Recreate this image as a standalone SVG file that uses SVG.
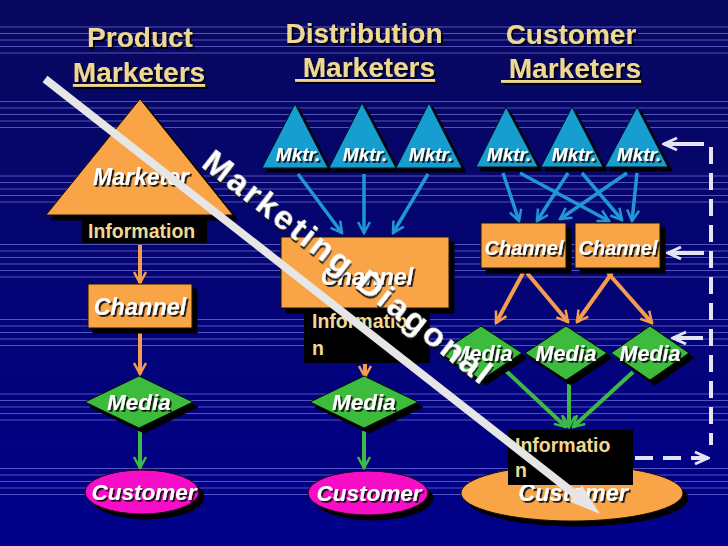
<svg xmlns="http://www.w3.org/2000/svg" width="728" height="546" viewBox="0 0 728 546">
<defs>
<style>
.hdr{font-family:"Liberation Sans",Arial,sans-serif;font-weight:bold;font-size:28px;fill:#eed894;filter:url(#hsh)}
.lbl{font-family:"Liberation Sans",Arial,sans-serif;font-weight:bold;font-style:italic;fill:#ffffff;text-anchor:middle;filter:url(#tsh)}
.info{font-family:"Liberation Sans",Arial,sans-serif;font-weight:bold;font-size:19.5px;fill:#eed894}
.org{fill:#f9a446;stroke:#1a1000;stroke-width:1;filter:url(#sh)}
.blu{fill:#139ed0;stroke:#001020;stroke-width:1;filter:url(#sh4)}
.grn{fill:#3dbb3d;stroke:#001000;stroke-width:1;filter:url(#sh)}
.mag{fill:#f60fc8;stroke:#200018;stroke-width:1;filter:url(#sh)}
.ibox{fill:#000000}
.ao{stroke:#f59d4f;stroke-width:4;fill:none;marker-end:url(#mo)}
.ab{stroke:#2196d3;stroke-width:3.5;fill:none;marker-end:url(#mb)}
.ag{stroke:#3cba44;stroke-width:4;fill:none;marker-end:url(#mg)}
.aw{stroke:#e4e4f4;stroke-width:4;fill:none}
.bgl{stroke:#6d6dd6;stroke-width:1;opacity:0.75}
</style>
<linearGradient id="bg" x1="0" y1="0" x2="0" y2="1">
<stop offset="0" stop-color="#08085e"/>
<stop offset="1" stop-color="#00008a"/>
</linearGradient>
<filter id="sh" x="-20%" y="-20%" width="150%" height="160%"><feDropShadow dx="5" dy="5" stdDeviation="0" flood-color="#000" flood-opacity="1"/></filter>
<filter id="sh4" x="-20%" y="-20%" width="150%" height="160%"><feDropShadow dx="4" dy="4" stdDeviation="0" flood-color="#000" flood-opacity="1"/></filter>
<filter id="tsh" x="-10%" y="-20%" width="130%" height="160%"><feDropShadow dx="1.8" dy="1.8" stdDeviation="0.3" flood-color="#111" flood-opacity="0.95"/></filter>
<filter id="hsh" x="-10%" y="-20%" width="130%" height="160%"><feDropShadow dx="2" dy="2" stdDeviation="0.3" flood-color="#000" flood-opacity="0.9"/></filter>
<marker id="mo" viewBox="-13 -8 15 16" markerWidth="15" markerHeight="16" refX="0" refY="0" orient="auto" markerUnits="userSpaceOnUse"><path d="M-11,-6 L0,0 L-11,6" stroke="#f59d4f" stroke-width="2.5" fill="none"/></marker>
<marker id="mb" viewBox="-13 -8 15 16" markerWidth="15" markerHeight="16" refX="0" refY="0" orient="auto" markerUnits="userSpaceOnUse"><path d="M-11,-6 L0,0 L-11,6" stroke="#2196d3" stroke-width="2.5" fill="none"/></marker>
<marker id="mg" viewBox="-13 -8 15 16" markerWidth="15" markerHeight="16" refX="0" refY="0" orient="auto" markerUnits="userSpaceOnUse"><path d="M-11,-6 L0,0 L-11,6" stroke="#3cba44" stroke-width="2.5" fill="none"/></marker>
<marker id="mw" viewBox="-15 -8 17 16" markerWidth="17" markerHeight="16" refX="0" refY="0" orient="auto" markerUnits="userSpaceOnUse"><path d="M-13,-6 L0,0 L-13,6" stroke="#e4e4f4" stroke-width="3" fill="none"/></marker>
</defs>

<rect x="0" y="0" width="728" height="546" fill="url(#bg)"/>
<g id="background-lines">
<path class="bgl" d="M0 27H728M0 33.5H728M0 40H728M0 46.5H728M0 53H728
M0 101.5H728M0 108H728M0 114.5H728M0 121H728M0 127.5H728
M0 176H728M0 182.5H728M0 189H728M0 195.5H728M0 202H728
M0 244.5H728M0 251H728M0 257.5H728M0 264H728M0 270.5H728M0 277H728
M0 319.5H728M0 326H728M0 332.5H728M0 339H728M0 345.5H728
M0 394H728M0 400.5H728M0 407H728M0 413.5H728M0 420H728
M0 468.5H728M0 475H728M0 481.5H728M0 488H728M0 494.5H728"/>
</g>

<g id="headers">
<text class="hdr" x="140" y="47" text-anchor="middle">Product</text>
<text class="hdr" x="139" y="82" text-anchor="middle" text-decoration="underline">Marketers</text>
<text class="hdr" x="364" y="43" text-anchor="middle">Distribution</text>
<text class="hdr" x="295" y="77" xml:space="preserve" text-decoration="underline"> Marketers</text>
<text class="hdr" x="571" y="44" text-anchor="middle">Customer</text>
<text class="hdr" x="501" y="78" xml:space="preserve" text-decoration="underline"> Marketers</text>
</g>

<g id="connectors">
<line class="ao" x1="140" y1="245" x2="140" y2="283"/>
<line class="ao" x1="140" y1="332" x2="140" y2="374"/>
<line class="ag" x1="140" y1="431" x2="140" y2="468"/>
<line class="ab" x1="298" y1="174" x2="342" y2="233"/>
<line class="ab" x1="364" y1="174" x2="364" y2="233"/>
<line class="ab" x1="428" y1="174" x2="393" y2="233"/>
<line class="ao" x1="365" y1="364" x2="365" y2="377"/>
<line class="ag" x1="364" y1="431" x2="364" y2="468"/>
<line class="ab" x1="503" y1="173" x2="519" y2="221"/>
<line class="ab" x1="520" y1="173" x2="609" y2="221"/>
<line class="ab" x1="568" y1="173" x2="537" y2="221"/>
<line class="ab" x1="582" y1="173" x2="622" y2="220"/>
<line class="ab" x1="627" y1="173" x2="560" y2="219"/>
<line class="ab" x1="637" y1="173" x2="632" y2="221"/>
<line class="ao" x1="523" y1="273" x2="496" y2="323"/>
<line class="ao" x1="527" y1="273" x2="568" y2="322"/>
<line class="ao" x1="612" y1="273" x2="577" y2="322"/>
<line class="ao" x1="608" y1="273" x2="652" y2="323"/>
<line class="ag" x1="505" y1="370" x2="566" y2="427"/>
<line class="ag" x1="569" y1="384" x2="569" y2="427"/>
<line class="ag" x1="633" y1="372" x2="573" y2="427"/>
<line class="aw" x1="711" y1="147" x2="711" y2="445" stroke-dasharray="17 9"/>
<line class="aw" x1="635" y1="458" x2="708" y2="458" stroke-dasharray="18 10" marker-end="url(#mw)"/>
<line class="aw" x1="704" y1="144" x2="664" y2="144" marker-end="url(#mw)"/>
<line class="aw" x1="704" y1="253" x2="668" y2="253" marker-end="url(#mw)"/>
<line class="aw" x1="703" y1="338" x2="673" y2="338" marker-end="url(#mw)"/>
</g>

<g id="product-marketer">
<polygon class="org" points="140,99 46,215 233,215"/>
<text class="lbl" x="141" y="185" font-size="23">Marketer</text>
</g>
<g id="product-information">
<rect class="ibox" x="82" y="220" width="125" height="23"/>
<text class="info" x="88" y="238">Information</text>
</g>
<g id="product-channel">
<rect class="org" x="88" y="284" width="104" height="44"/>
<text class="lbl" x="140" y="315" font-size="23.5">Channel</text>
</g>
<g id="product-media">
<polygon class="grn" points="139,376 193,402 139,428 85,402"/>
<text class="lbl" x="139" y="410" font-size="22.5">Media</text>
</g>
<g id="product-customer">
<ellipse class="mag" cx="142" cy="492" rx="57" ry="22"/>
<text class="lbl" x="144" y="500" font-size="22.5">Customer</text>
</g>

<g id="dist-mktr-1">
<polygon class="blu" points="295,104 262,168 328,168"/>
<text class="lbl" x="298" y="161" font-size="19">Mktr.</text>
</g>
<g id="dist-mktr-2">
<polygon class="blu" points="362,103 329,168 396,168"/>
<text class="lbl" x="365" y="161" font-size="19">Mktr.</text>
</g>
<g id="dist-mktr-3">
<polygon class="blu" points="429,103 396,168 462,168"/>
<text class="lbl" x="431" y="161" font-size="19">Mktr.</text>
</g>
<g id="dist-channel">
<rect class="org" x="281" y="237" width="168" height="71"/>
<text class="lbl" x="367" y="285" font-size="23.5">Channel</text>
</g>
<g id="dist-information">
<rect class="ibox" x="304" y="310" width="126" height="53"/>
<text class="info" x="312" y="328">Informatio</text>
<text class="info" x="312" y="355">n</text>
</g>
<g id="dist-media">
<polygon class="grn" points="364,376 418,402 364,428 310,402"/>
<text class="lbl" x="364" y="410" font-size="22.5">Media</text>
</g>
<g id="dist-customer">
<ellipse class="mag" cx="368" cy="493" rx="60" ry="22"/>
<text class="lbl" x="369" y="501" font-size="22.5">Customer</text>
</g>

<g id="cust-mktr-1">
<polygon class="blu" points="506,107 476,167 538,167"/>
<text class="lbl" x="509" y="161" font-size="19">Mktr.</text>
</g>
<g id="cust-mktr-2">
<polygon class="blu" points="572,107 541,167 603,167"/>
<text class="lbl" x="574" y="161" font-size="19">Mktr.</text>
</g>
<g id="cust-mktr-3">
<polygon class="blu" points="637,107 605,167 668,167"/>
<text class="lbl" x="639" y="161" font-size="19">Mktr.</text>
</g>
<g id="cust-channel-1">
<rect class="org" x="481" y="223" width="85" height="45"/>
<text class="lbl" x="524" y="255" font-size="20">Channel</text>
</g>
<g id="cust-channel-2">
<rect class="org" x="575" y="223" width="85" height="45"/>
<text class="lbl" x="618" y="255" font-size="20">Channel</text>
</g>
<g id="cust-media-1">
<polygon class="grn" points="481,326 522,353 481,380 440,353"/>
<text class="lbl" x="482" y="361" font-size="21.5">Media</text>
</g>
<g id="cust-media-2">
<polygon class="grn" points="566,326 607,353 566,380 525,353"/>
<text class="lbl" x="566" y="361" font-size="21.5">Media</text>
</g>
<g id="cust-media-3">
<polygon class="grn" points="650,326 689,353 650,380 611,353"/>
<text class="lbl" x="650" y="361" font-size="21.5">Media</text>
</g>
<g id="cust-customer">
<ellipse class="org" cx="572" cy="493" rx="111" ry="28"/>
<text class="lbl" x="573" y="501" font-size="23.5">Customer</text>
</g>
<g id="cust-information">
<rect class="ibox" x="508" y="430" width="125" height="55"/>
<text class="info" x="515" y="452">Informatio</text>
<text class="info" x="515" y="477">n</text>
</g>

<g id="marketing-diagonal">
<line x1="45" y1="79" x2="580" y2="498" stroke="#e6e6e6" stroke-width="8"/>
<polygon points="600,514 569.6,501.4 582.0,485.6" fill="#e6e6e6"/>
<text transform="translate(200,166) rotate(38)" font-family="'Liberation Sans',Arial,sans-serif" font-weight="bold" font-size="34" letter-spacing="2.5" fill="#ffffff" filter="url(#tsh)">Marketing Diagonal</text>
</g>
</svg>
